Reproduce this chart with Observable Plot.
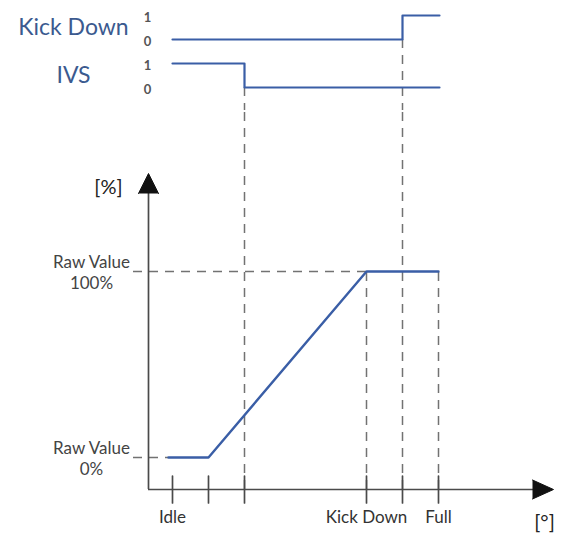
<!DOCTYPE html>
<html>
<head>
<meta charset="utf-8">
<script src="https://cdn.jsdelivr.net/npm/d3@7"></script>
<script src="https://cdn.jsdelivr.net/npm/@observablehq/plot@0.6"></script>
<style>
  html, body { margin: 0; padding: 0; background: #fff; }
  #chart svg { display: block; }
</style>
</head>
<body>
<div id="chart"></div>
<script>
// ---- data (x in pedal-angle units, y in percent / signal level) ----
const xTicks = [24, 60, 96, 218, 254, 290];
const xTickNames = ["Idle", "", "", "Kick Down", "", "Full"];
const rawX = [20, 60, 218, 290];
const rawY = [0, 0, 100, 100];
const yLevels = [100, 0];
const yLevelNames = ["Raw Value\n100%", "Raw Value\n0%"];
const signalNames = ["Kick Down", "IVS"];
const signalOffset = [2, 0];
const kdX = [24, 254, 254, 291];
const kdY = [0, 0, 1, 1];
const ivsX = [24, 96, 96, 291];
const ivsY = [1, 1, 0, 0];
const guideFull = [96, 254];      // dashed through whole chart
const guideFrom100 = [218, 290];  // dashed from 100% down
const xMax = 405;
const yMin = -17.2, yMax = 152.7;

const W = 562;
const blue = "#3a5ea6";
const titleBlue = "#3b5a8f";
const grey = "#727272";
const axisCol = "#4a4a4a";
const font = "Lato, 'Open Sans', sans-serif";

const kd = kdX.map((x, i) => ({x, y: kdY[i] + signalOffset[0]}));
const ivs = ivsX.map((x, i) => ({x, y: ivsY[i] + signalOffset[1]}));
const raw = rawX.map((x, i) => ({x, y: rawY[i]}));
const ticks = xTicks.map((x, i) => ({x, name: xTickNames[i]}));
const ylab = yLevels.map((v, i) => ({v, name: yLevelNames[i]}));
const sigLab = signalNames.map((n, i) => ({n, y: signalOffset[i] + 0.5}));
const levelLab = signalOffset.flatMap(o => [{y: o + 1, t: "1"}, {y: o, t: "0"}]);

const tickShape = {draw(ctx, l) { ctx.moveTo(0, 0); ctx.lineTo(0, -l); }};

// ---- top: signal traces ----
const signalPlot = Plot.plot({
  width: W, height: 110,
  marginLeft: 148, marginRight: 9, marginTop: 0, marginBottom: 0,
  x: {domain: [0, xMax], axis: null},
  y: {domain: [-0.958, 3.625], axis: null},
  style: {fontFamily: font, background: "transparent", overflow: "visible"},
  marks: [
    Plot.ruleX([guideFull[0]], {y1: signalOffset[1], y2: -0.958, stroke: grey, strokeWidth: 1.5, strokeDasharray: "9,7"}),
    Plot.ruleX([guideFull[1]], {y1: signalOffset[0], y2: -0.958, stroke: grey, strokeWidth: 1.5, strokeDasharray: "9,7"}),
    Plot.line(kd, {x: "x", y: "y", stroke: blue, strokeWidth: 2.2}),
    Plot.line(ivs, {x: "x", y: "y", stroke: blue, strokeWidth: 2.2}),
    Plot.text(sigLab, {y: "y", text: "n", frameAnchor: "left", dx: -75, textAnchor: "middle", fontSize: 23, fill: titleBlue}),
    Plot.text(levelLab, {y: "y", text: "t", frameAnchor: "left", dx: -1, dy: 2, textAnchor: "middle", fontSize: 13, fontWeight: "bold", fill: "#555"})
  ]
});

// ---- main chart ----
const mainPlot = Plot.plot({
  width: W, height: 427,
  marginLeft: 148, marginRight: 9, marginTop: 63, marginBottom: 48,
  x: {domain: [0, xMax], axis: null},
  y: {domain: [yMin, yMax], axis: null},
  style: {fontFamily: font, background: "transparent", overflow: "visible"},
  marks: [
    Plot.ruleX(guideFull, {y1: yMin, y2: 186.6, stroke: grey, strokeWidth: 1.5, strokeDasharray: "9,7"}),
    Plot.ruleX(guideFrom100, {y1: yMin, y2: 100, stroke: grey, strokeWidth: 1.5, strokeDasharray: "9,7"}),
    Plot.ruleY([100], {x1: -15, x2: rawX[2], stroke: grey, strokeWidth: 1.5, strokeDasharray: "9,7"}),
    Plot.ruleY([0], {x1: -15, x2: rawX[0], stroke: grey, strokeWidth: 1.5, strokeDasharray: "9,7"}),
    Plot.ruleY([yMin], {x1: 0, x2: xMax - 10, stroke: axisCol, strokeWidth: 1.7}),
    Plot.ruleX([0], {y1: yMin, y2: yMax - 10, stroke: axisCol, strokeWidth: 1.7}),
    Plot.vector(ticks, {x: "x", y: () => yMin, length: 27, anchor: "middle", shape: tickShape, stroke: axisCol, strokeWidth: 1.7}),
    Plot.line(raw, {x: "x", y: "y", stroke: blue, strokeWidth: 2.4}),
    Plot.vector([0], {x: () => 0, y: () => yMax, length: 20, anchor: "end", shape: "spike", r: 10, rotate: 0, fill: "#111", stroke: "#111", strokeWidth: 1}),
    Plot.vector([0], {x: () => xMax, y: () => yMin, length: 21, anchor: "end", shape: "spike", r: 9.5, rotate: 90, fill: "#111", stroke: "#111", strokeWidth: 1}),
    Plot.text(ticks.filter(d => d.name), {x: "x", text: "name", frameAnchor: "bottom", dy: 33, fontSize: 17, fill: "#333"}),
    Plot.text(ylab, {y: "v", text: "name", frameAnchor: "left", dx: -57, textAnchor: "middle", lineHeight: 1.25, fontSize: 17, fill: "#444"}),
    Plot.text(["[%]"], {frameAnchor: "top-left", textAnchor: "middle", dx: -40, dy: 6, fontSize: 20, fill: "#222"}),
    Plot.text(["[°]"], {frameAnchor: "bottom-right", textAnchor: "middle", dx: -9, dy: 39, fontSize: 20, fill: "#222"})
  ]
});

document.getElementById("chart").append(signalPlot, mainPlot);
</script>
</body>
</html>
